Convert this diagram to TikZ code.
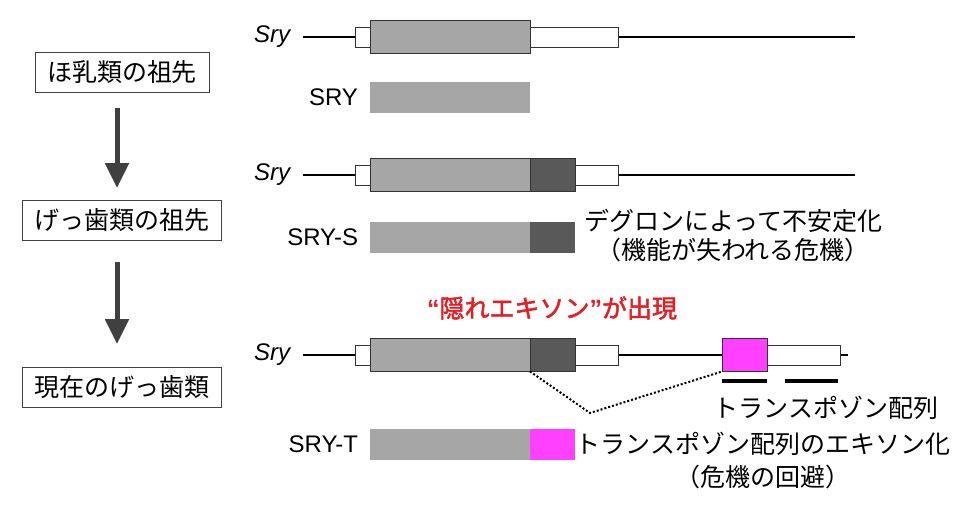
\documentclass[tikz,border=0pt]{standalone}
\usepackage{fontspec}
\setmainfont{Liberation Sans}
\newfontfamily\jp{Noto Sans CJK JP}[AutoFakeBold=2]
\usetikzlibrary{arrows.meta}
\definecolor{cdsgray}{RGB}{166,166,166}
\definecolor{degrongray}{RGB}{89,89,89}
\definecolor{tpmagenta}{RGB}{255,64,255}
\definecolor{hiddenred}{RGB}{230,30,35}
\definecolor{arrowgray}{RGB}{64,64,64}

\begin{document}
\begin{tikzpicture}[
        x=1pt, y=-1pt,
        every node/.style={inner sep=0pt, outer sep=0pt},
        jtext/.style={font=\jp\fontsize{25}{29}\selectfont},
        stage/.style={jtext, draw=black!75, line width=0.8pt, inner xsep=12pt, minimum height=40pt},
        stagearrow/.style={draw=arrowgray, line width=5pt, -{Triangle[width=23pt, length=25pt]}},
        genename/.style={font=\fontsize{24}{28}\selectfont\itshape, anchor=east},
        protname/.style={font=\fontsize{24}{28}\selectfont, anchor=east},
        geneline/.style={draw, line width=1.5pt},
        utr/.style={draw=black!80, fill=white, line width=0.8pt, minimum height=20pt, anchor=west},
        cds/.style={draw=black!80, fill=cdsgray, line width=0.8pt, minimum height=33pt, anchor=west},
        degron/.style={cds, fill=degrongray},
        tpexon/.style={cds, fill=tpmagenta},
        prot/.style={fill=cdsgray, minimum height=31pt, anchor=west},
        protdegron/.style={prot, fill=degrongray},
        prottp/.style={prot, fill=tpmagenta},
        tpbar/.style={draw, line width=4pt},
        splice/.style={draw, line width=2pt, dash pattern=on 2pt off 2pt},
        note/.style={jtext, align=center},
    ]
    \useasboundingbox (0,0) rectangle (978,507);

    \node[stage] (anc1) at (122,72) {ほ乳類の祖先};
    \node[stage] (anc2) at (122,220) {げっ歯類の祖先};
    \node[stage] (now) at (122,387) {現在のげっ歯類};
    \draw[stagearrow, shorten <=16pt, shorten >=12pt] ([xshift=-5pt]anc1.south) -- ([xshift=-5pt]anc2.north);
    \draw[stagearrow, shorten <=22pt, shorten >=23pt] ([xshift=-5pt]anc2.south) -- ([xshift=-5pt]now.north);

    \node[genename] (sry1) at (290,37) {Sry};
    \coordinate (end1) at (855,37);
    \draw[geneline] ([xshift=13pt]sry1.east) -- (end1);
    \node[utr, minimum width=15pt] (utr1a) at (355,37) {};
    \node[cds, minimum width=160pt] (cds1) at (370,37) {};
    \node[utr, minimum width=88pt] (utr1b) at (530,37) {};
    \node[protname] (prot1) at (358,97) {SRY};
    \node[prot, minimum width=160pt] (pbox1) at (370,97) {};

    \node[genename] (sry2) at (290,175) {Sry};
    \coordinate (end2) at (855,175);
    \draw[geneline] ([xshift=13pt]sry2.east) -- (end2);
    \node[utr, minimum width=15pt] (utr2a) at (355,175) {};
    \node[cds, minimum width=160pt] (cds2) at (370,175) {};
    \node[degron, minimum width=45pt] (deg2) at (530,175) {};
    \node[utr, minimum width=43pt] (utr2b) at (575,175) {};
    \node[protname] (prot2) at (358,237) {SRY-S};
    \node[prot, minimum width=160pt] (pbox2) at (370,237) {};
    \node[protdegron, minimum width=45pt] (pdeg2) at (530,237) {};
    \node[note] (unstable) at (733,236) {デグロンによって不安定化\\（機能が失われる危機）};

    \node[font=\fontsize{25}{28}\selectfont\bfseries, text=hiddenred] (hidden) at (552,308) {“{\jp 隠れエキソン}”{\jp が出現}};

    \node[genename] (sry3) at (290,355) {Sry};
    \coordinate (end3) at (848,355);
    \draw[geneline] ([xshift=13pt]sry3.east) -- (end3);
    \node[utr, minimum width=15pt] (utr3a) at (355,355) {};
    \node[cds, minimum width=160pt] (cds3) at (370,355) {};
    \node[degron, minimum width=45pt] (deg3) at (530,355) {};
    \node[utr, minimum width=43pt] (utr3b) at (575,355) {};
    \node[tpexon, minimum width=45pt] (tp3) at (722,355) {};
    \node[utr, minimum width=73pt] (utr3c) at (767,355) {};
    \coordinate (bar1s) at (722,381);
    \coordinate (bar1e) at (767,381);
    \coordinate (bar2s) at (785,381);
    \coordinate (bar2e) at (838,381);
    \draw[tpbar] (bar1s) -- (bar1e);
    \draw[tpbar] (bar2s) -- (bar2e);
    \node[jtext] (tplabel) at (826,408) {トランスポゾン配列};
    \coordinate (dip) at (590,413);
    \draw[splice] (deg3.south west) -- (dip) -- (tp3.south west);
    \node[protname] (prot3) at (358,444) {SRY-T};
    \node[prot, minimum width=160pt] (pbox3) at (370,444) {};
    \node[prottp, minimum width=45pt] (ptp3) at (530,444) {};
    \node[note, font=\jp\fontsize{25}{33}\selectfont] (rescue) at (763,461) {トランスポゾン配列のエキソン化\\（危機の回避）};
\end{tikzpicture}
\end{document}
